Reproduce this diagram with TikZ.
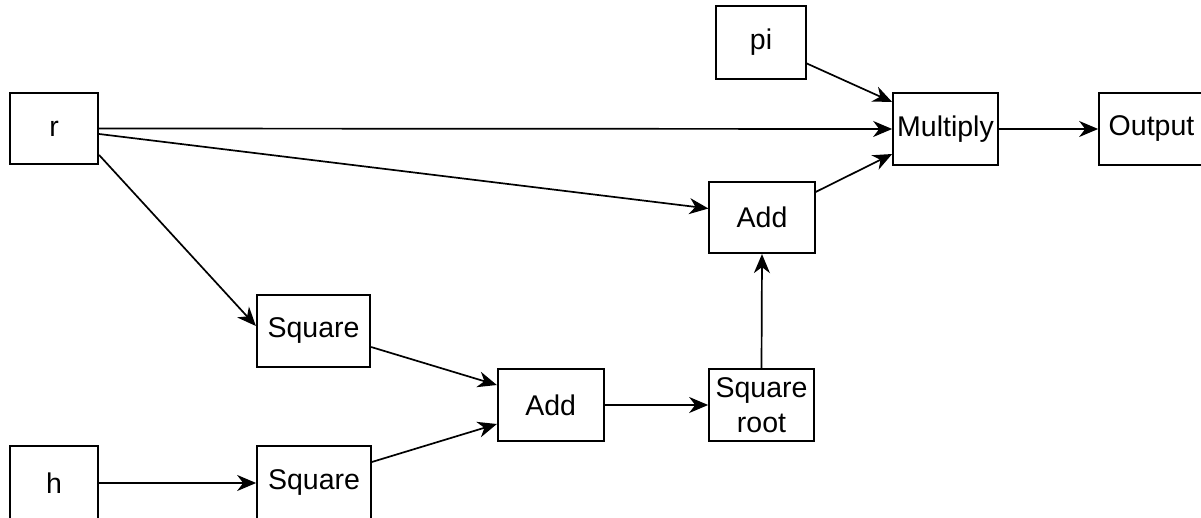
\documentclass[tikz,border=0pt]{standalone}
\usepackage{fontspec}
\setmainfont{Liberation Sans}
\usetikzlibrary{arrows.meta,calc}
\begin{document}
\begin{tikzpicture}[x=1pt,y=-1pt,
  box/.style={draw=black,line width=1.7pt,fill=white,inner sep=0pt,
    font=\fontsize{28.5}{35}\selectfont,align=center},
  link/.style={line width=1.7pt,-{Stealth[length=19pt,width=16pt,inset=6pt]}}]
\useasboundingbox[fill=white] (0,0) rectangle (1201,518);

% operand and operator boxes
\node[box,minimum width=88.5pt,minimum height=71pt] (r) at (54,128.5) {r};
\node[box,minimum width=88.5pt,minimum height=74pt] (h) at (54,483) {h};
\node[box,minimum width=90pt,minimum height=73pt] (pi) at (761,42.5) {pi};
\node[box,minimum width=105pt,minimum height=72pt] (mul) at (945.5,129) {Multiply};
\node[box,minimum width=105pt,minimum height=72pt] (out) at (1151.5,129) {Output};
\node[box,minimum width=105.5pt,minimum height=71.5pt] (addt) at (762,217.5) {Add};
\node[box,minimum width=113.5pt,minimum height=72pt] (sqa) at (313.5,331) {Square};
\node[box,minimum width=106pt,minimum height=72pt] (addm) at (550.7,405) {Add};
\node[box,minimum width=105pt,minimum height=72pt] (root) at (761.5,405) {Square\\root};
\node[box,minimum width=114pt,minimum height=74pt] (sqb) at (314,483) {Square};

% data flow
\draw[link] (r.east) -- (mul.west);
\draw[link] ($(r.east)+(0,5.5)$) -- ($(addt.west)+(0,-9)$);
\draw[link] ($(r.east)+(0,26.5)$) -- ($(sqa.west)+(0,-5)$);
\draw[link] ($(pi.east)+(0,21)$) -- ($(mul.west)+(0,-27)$);
\draw[link] ($(addt.east)+(0,-25.5)$) -- ($(mul.west)+(0,25)$);
\draw[link] (mul.east) -- (out.west);
\draw[link] (h.east) -- (sqb.west);
\draw[link] ($(sqa.east)+(0,16)$) -- ($(addm.west)+(0,-20)$);
\draw[link] ($(sqb.east)+(0,-21)$) -- ($(addm.west)+(0,19)$);
\draw[link] (addm.east) -- (root.west);
\draw[link] (root.north) -- (addt.south);
\end{tikzpicture}
\end{document}
